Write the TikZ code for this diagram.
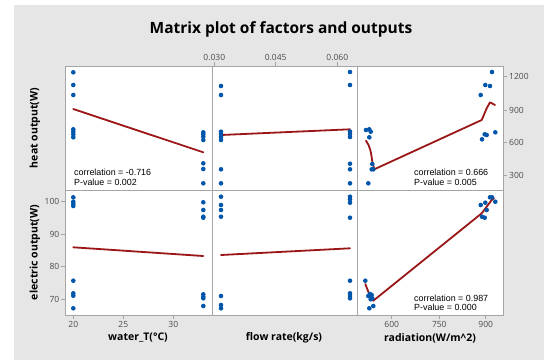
\documentclass[tikz,border=0pt]{standalone}
\usepackage{fontspec}
\setmainfont{Open Sans}
\newfontfamily\corrfont{Liberation Sans}
\definecolor{bggrey}{RGB}{230,230,230}
\definecolor{framegrey}{RGB}{165,165,165}
\definecolor{dotblue}{RGB}{0,86,170}
\definecolor{fitred}{RGB}{155,22,22}
\definecolor{ticktext}{RGB}{75,75,75}
\tikzset{
  frameline/.style={draw=framegrey, line width=0.9},
  tickline/.style={draw=framegrey, line width=0.8},
  ticklabel/.style={text=ticktext, font=\fontsize{8.5}{9}\selectfont, inner sep=0pt},
  axislabel/.style={font=\bfseries\fontsize{10.5}{12}\selectfont, inner sep=0pt},
  corrlabel/.style={font=\corrfont\fontsize{8.9}{9}\selectfont, inner sep=0pt, anchor=west},
  fitline/.style={draw=fitred, line width=1.8, line join=round, line cap=round},
  datadot/.style={fill=dotblue}
}
\begin{document}
\begin{tikzpicture}[x=1pt,y=-1pt]
\useasboundingbox (0,0) rectangle (544,360);
\fill[white] (0,0) rectangle (544,360);
\fill[bggrey] (14,5) rectangle (544,360);
% title
\node[font=\bfseries\fontsize{15.5}{18}\selectfont, inner sep=0pt] (title) at (281,29) {Matrix plot of factors and outputs};
% panels
\fill[white] (65,66) rectangle (503,315);
\draw[frameline] (65,66) rectangle (503,315);
\draw[frameline] (212,66) -- (212,315);
\draw[frameline] (357,66) -- (357,315);
\draw[frameline] (65,190) -- (503,190);
% left axis (electric output)
\foreach \v/\yy in {100/201.7, 90/234.3, 80/266.7, 70/299.3} {
  \draw[tickline] (65,\yy) -- (61,\yy);
  \node[ticklabel, anchor=east] (yl\v) at (59.5,\yy) {\v};
}
% right axis (heat output)
\foreach \v/\yy in {1200/76.7, 900/110, 600/142.7, 300/175.7} {
  \draw[tickline] (503,\yy) -- (507,\yy);
  \node[ticklabel, anchor=west] (yr\v) at (509,\yy) {\v};
}
% top axis (flow rate)
\foreach \v/\xx in {0.030/214.3, 0.045/275.7, 0.060/337.3} {
  \draw[tickline] (\xx,66) -- (\xx,62);
  \node[ticklabel] (xt\v) at (\xx,57) {\v};
}
% bottom axis water_T
\foreach \v/\xx in {20/73.3, 25/123.3, 30/173.3} {
  \draw[tickline] (\xx,315) -- (\xx,319);
  \node[ticklabel] (xb\v) at (\xx,324.5) {\v};
}
% bottom axis radiation
\foreach \v/\xx in {600/391.7, 750/439.3, 900/485.7} {
  \draw[tickline] (\xx,315) -- (\xx,319);
  \node[ticklabel] (xr\v) at (\xx,324.5) {\v};
}
% axis labels
\node[axislabel, rotate=90] (lheat) at (35,128) {heat output(W)};
\node[axislabel, rotate=90] (lelec) at (35,252.5) {electric output(W)};
\node[axislabel] (lwater) at (138,338) {water\_T(°C)};
\node[axislabel] (lflow) at (284,338) {flow rate(kg/s)};
\node[axislabel] (lrad) at (430,338) {radiation(W/m\textasciicircum 2)};

% fit lines
\draw[fitline] (73.3,109) -- (203.3,152.3);
\draw[fitline] (221,135) -- (350,129.3);
\draw[fitline] (366,140.7) .. controls (370,146) and (371,152) .. (372.3,161.7) -- (374.3,169.3) -- (481.7,120) -- (486.7,108.3) -- (490,102.3) -- (495,105);
\draw[fitline] (73.3,247.3) -- (203.3,256);
\draw[fitline] (221,255) -- (350,248.3);
\draw[fitline] (365.3,284) -- (368.3,291.7) -- (373.3,300.7) -- (481.7,213.3) -- (486.7,206.7) -- (491.7,200) -- (494,198.3);

% data dots
\foreach \xx/\yy in {
  73.3/72.3, 73.3/85, 73.3/95, 73.3/129.3, 73.3/131.7, 73.3/134.3, 73.3/137.3,
  203.3/132.3, 203.3/134.3, 203.3/136.7, 203.3/140, 203.3/163.3, 203.3/169, 203.3/183.3,
  221/86, 221/95, 221/131.7, 221/134, 221/137, 221/140, 221/169.3, 221/183.3,
  350/72, 350/85, 350/131.5, 350/134, 350/137, 350/163.7, 350/169.3, 350/183.3,
  366/130, 369.3/129.3, 370.7/131.7, 369.3/137.3, 372.3/164, 371.7/169.3, 373.3/169.3, 368.3/183.3,
  480.7/95, 485.3/85, 490/86, 492/72, 484.7/134.3, 486.7/135, 482/139.3, 495.3/132.3,
  73.3/197.3, 73.3/201.7, 73.3/204, 73.3/206, 73.3/280.7, 73.3/293.3, 73.3/295.7, 73.3/308.3,
  203.3/202.3, 203.3/210, 203.3/216.7, 203.3/217.7, 203.3/294.3, 203.3/296.7, 203.3/298.3, 203.3/306,
  221/196.7, 221/205, 221/210, 221/216.7, 221/296, 221/305, 221/308.3,
  350/196.7, 350/199.3, 350/202.7, 350/217.7, 350/280.7, 350/293.3, 350/296, 350/298.3,
  365.3/280.7, 368.3/296, 370/294, 371.7/295, 372.3/298.3, 370.7/299.3, 373.3/306, 369.3/308.3,
  480.7/205, 485.3/202.7, 490/197.3, 492/197.3, 495.3/201.7, 486.7/210, 482/216.7, 484.7/217.7}
  \fill[datadot] (\xx,\yy) circle[radius=2.3];

% correlation texts
\node[corrlabel] (c1a) at (74,172.3) {correlation = -0.716};
\node[corrlabel] (c1b) at (74,182.3) {P-value = 0.002};
\node[corrlabel] (c2a) at (414,172.7) {correlation = 0.666};
\node[corrlabel] (c2b) at (414,182.7) {P-value = 0.005};
\node[corrlabel] (c3a) at (414,298.3) {correlation = 0.987};
\node[corrlabel] (c3b) at (414,307.7) {P-value = 0.000};
\end{tikzpicture}
\end{document}
